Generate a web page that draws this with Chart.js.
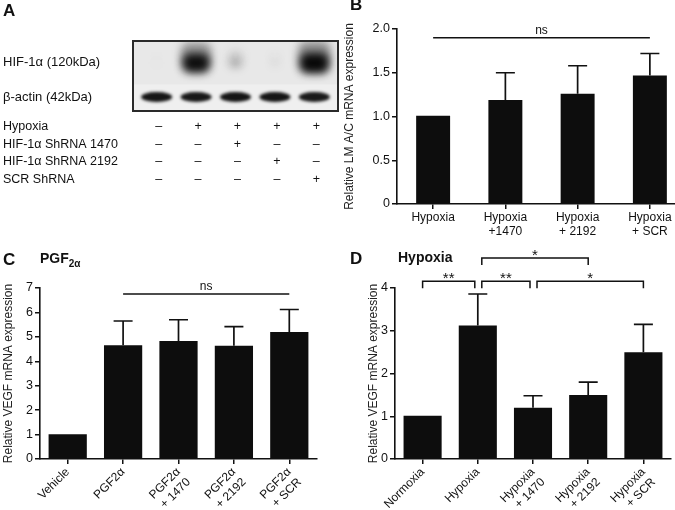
<!DOCTYPE html>
<html>
<head>
<meta charset="utf-8">
<script src="https://cdn.jsdelivr.net/npm/chart.js@4/dist/chart.umd.min.js"></script>
<style>
body{margin:0;width:675px;height:510px;overflow:hidden;background:#fff;position:relative;font-family:"Liberation Sans",Arial,sans-serif}
canvas{position:absolute}
.lbl{position:absolute;font-weight:bold;color:#111;white-space:nowrap}
</style>
</head>
<body>
<canvas id="chartA" width="340" height="250" style="left:0;top:0"></canvas>
<canvas id="chartB" width="346" height="250" style="left:340px;top:0"></canvas>
<canvas id="chartC" width="340" height="260" style="left:0;top:250px"></canvas>
<canvas id="chartD" width="335" height="262" style="left:340px;top:248px"></canvas>
<div class="lbl" style="left:3px;top:1px;font-size:17px">A</div>
<div class="lbl" style="left:350px;top:-5px;font-size:17px">B</div>
<div class="lbl" style="left:3px;top:250px;font-size:17px">C</div>
<div class="lbl" style="left:350px;top:249px;font-size:17px">D</div>
<div class="lbl" style="left:40px;top:250px;font-size:14px">PGF<sub style="font-size:10px">2α</sub></div>
<div class="lbl" style="left:398px;top:249px;font-size:14px">Hypoxia</div>
<script>
var F = '"Liberation Sans", Arial, sans-serif';

// panel A - blot and treatment table
var lanes = [0, 1, 2, 3, 4];
var hifBand = [0.02, 0.92, 0.25, 0.06, 1.0];
var actinBand = [0.95, 0.93, 0.95, 0.95, 0.92];
var rowNames = ['Hypoxia', 'HIF-1α ShRNA 1470', 'HIF-1α ShRNA 2192', 'SCR ShRNA'];
var rowHypoxia = ['–', '+', '+', '+', '+'];
var row1470 = ['–', '–', '+', '–', '–'];
var row2192 = ['–', '–', '–', '+', '–'];
var rowScr = ['–', '–', '–', '–', '+'];

// panel B
var bLabels = ['Hypoxia', ['Hypoxia', '+1470'], ['Hypoxia', '+ 2192'], ['Hypoxia', '+ SCR']];
var bMean = [1.01, 1.19, 1.26, 1.47];
var bErr = [0, 0.31, 0.32, 0.25];

// panel C
var cLabels = ['Vehicle', 'PGF2α', ['PGF2α', '+ 1470'], ['PGF2α', '+ 2192'], ['PGF2α', '+ SCR']];
var cMean = [1.01, 4.66, 4.83, 4.64, 5.2];
var cErr = [0, 0.99, 0.87, 0.78, 0.92];

// panel D
var dLabels = ['Normoxia', 'Hypoxia', ['Hypoxia', '+ 1470'], ['Hypoxia', '+ 2192'], ['Hypoxia', '+ SCR']];
var dMean = [1.01, 3.12, 1.2, 1.5, 2.5];
var dErr = [0, 0.74, 0.28, 0.3, 0.65];

function blob(ctx, x, y, w, h, r)
{
    ctx.beginPath();
    ctx.roundRect(x - w / 2, y - h / 2, w, h, r);
    ctx.fill();
}

var blot = {
    id: 'blot',
    beforeDatasetsDraw: function(chart)
    {
        var ctx = chart.ctx;
        var a = chart.chartArea;
        ctx.save();
        ctx.fillStyle = '#e8e8e8';
        ctx.fillRect(a.left, a.top, a.width, a.height);
        ctx.fillStyle = '#efefef';
        ctx.fillRect(a.left, a.top + a.height * 0.62, a.width, a.height * 0.38);
        ctx.beginPath();
        ctx.rect(a.left, a.top, a.width, a.height);
        ctx.clip();
        chart.getDatasetMeta(0).data.forEach(function(p, i) {
            var s = hifBand[i];
            if (s < 0.01) return;
            // smear above the band
            ctx.filter = 'blur(4px)';
            ctx.fillStyle = 'rgba(40,40,40,' + (0.45 * s) + ')';
            blob(ctx, p.x, p.y - 6, 10 + 22 * s, 8 + 22 * s, 8);
            ctx.fillStyle = 'rgba(8,8,8,' + Math.min(1, s * 1.05) + ')';
            blob(ctx, p.x, p.y + 1, 8 + 20 * s, 6 + 14 * s, 7);
        });
        ctx.filter = 'blur(1.6px)';
        chart.getDatasetMeta(1).data.forEach(function(p, i) {
            ctx.fillStyle = 'rgba(8,8,8,' + actinBand[i] + ')';
            ctx.beginPath();
            ctx.ellipse(p.x, p.y, 15.5, 5, 0, 0, 2 * Math.PI);
            ctx.fill();
        });
        ctx.restore();
        ctx.save();
        ctx.strokeStyle = '#2a2a2a';
        ctx.lineWidth = 2;
        ctx.strokeRect(a.left, a.top, a.width, a.height);

        ctx.fillStyle = '#111';
        ctx.font = '13px ' + F;
        ctx.textBaseline = 'middle';
        ctx.fillText('HIF-1α (120kDa)', 3, chart.getDatasetMeta(0).data[0].y);
        ctx.fillText('β-actin (42kDa)', 3, chart.getDatasetMeta(1).data[0].y);

        var rows = [rowHypoxia, row1470, row2192, rowScr];
        var pts = chart.getDatasetMeta(0).data;
        ctx.font = '12.5px ' + F;
        for (var r = 0; r < rows.length; r++) {
            var yy = a.bottom + 16 + r * 17.5;
            ctx.textAlign = 'left';
            ctx.fillText(rowNames[r], 3, yy);
            ctx.textAlign = 'center';
            for (var i = 0; i < rows[r].length; i++) {
                ctx.fillText(rows[r][i], pts[i].x + 2, yy);
            }
        }
        ctx.restore();
    }
};

new Chart(document.getElementById('chartA'), {
    type: 'scatter',
    data: {
        datasets: [
            { data: lanes.map(function(i) { return { x: i, y: 1.4 }; }), pointRadius: 0 },
            { data: lanes.map(function(i) { return { x: i, y: 0.4 }; }), pointRadius: 0 }
        ]
    },
    options: {
        responsive: false, animation: false, devicePixelRatio: 1,
        layout: { padding: { left: 133, right: 2, top: 41, bottom: 139 } },
        plugins: { legend: { display: false }, tooltip: { enabled: false } },
        scales: {
            x: { type: 'linear', min: -0.6, max: 4.6, display: false },
            y: { min: 0, max: 2, display: false }
        }
    },
    plugins: [blot]
});

var errorBars = {
    id: 'errorBars',
    afterDatasetsDraw: function(chart, args, opts)
    {
        var ctx = chart.ctx;
        var y = chart.scales.y;
        var vals = chart.data.datasets[0].data;
        ctx.save();
        ctx.strokeStyle = '#111';
        ctx.lineWidth = 1.7;
        chart.getDatasetMeta(0).data.forEach(function(bar, i) {
            if (!opts.errs[i]) return;
            var top = y.getPixelForValue(vals[i] + opts.errs[i]);
            ctx.beginPath();
            ctx.moveTo(bar.x, bar.y);
            ctx.lineTo(bar.x, top);
            ctx.moveTo(bar.x - 9.5, top);
            ctx.lineTo(bar.x + 9.5, top);
            ctx.stroke();
        });
        ctx.restore();
    }
};

var brackets = {
    id: 'brackets',
    afterDraw: function(chart, args, opts)
    {
        var ctx = chart.ctx;
        var xs = chart.scales.x, ys = chart.scales.y;
        var lines = opts.lines || [];
        ctx.save();
        ctx.strokeStyle = '#111';
        ctx.fillStyle = '#111';
        ctx.lineWidth = 1.5;
        ctx.textAlign = 'center';
        ctx.textBaseline = 'alphabetic';
        lines.forEach(function(b) {
            var x1 = xs.getPixelForValue(b.from);
            var x2 = xs.getPixelForValue(b.to);
            // nudge apart where brackets share a bar
            if (lines.some(function(o) { return o !== b && o.to === b.from; })) x1 += 4;
            if (lines.some(function(o) { return o !== b && o.from === b.to; })) x2 -= 3;
            var yy = ys.getPixelForValue(b.level);
            ctx.beginPath();
            ctx.moveTo(x1, yy + b.drop);
            ctx.lineTo(x1, yy);
            ctx.lineTo(x2, yy);
            ctx.lineTo(x2, yy + b.drop);
            ctx.stroke();
            ctx.font = b.label === 'ns' ? '12px ' + F : '15px ' + F;
            ctx.fillText(b.label, (x1 + x2) / 2, b.label === 'ns' ? yy - 4 : yy + 2);
        });
        ctx.restore();
    }
};

function barChart(id, cfg)
{
    return new Chart(document.getElementById(id), {
        type: 'bar',
        data: {
            labels: cfg.labels,
            datasets: [{
                data: cfg.means,
                backgroundColor: '#0d0d0d',
                borderWidth: 0,
                barPercentage: cfg.barPct,
                categoryPercentage: 1
            }]
        },
        options: {
            responsive: false, animation: false, devicePixelRatio: 1,
            layout: { padding: cfg.padding },
            plugins: {
                legend: { display: false },
                tooltip: { enabled: false },
                errorBars: { errs: cfg.errs },
                brackets: { lines: cfg.brackets }
            },
            scales: {
                x: {
                    grid: { display: true, offset: false, drawOnChartArea: false, drawTicks: true, tickLength: 5, color: '#111', lineWidth: 1.5 },
                    border: { display: true, color: '#111', width: 1.6 },
                    ticks: { color: '#111', font: { size: 12, family: F }, maxRotation: cfg.rot, minRotation: cfg.rot, autoSkip: false, padding: 1 },
                    afterFit: function(s) { s.height = cfg.xH; }
                },
                y: {
                    min: 0, max: cfg.yMax,
                    grid: { display: true, drawOnChartArea: false, drawTicks: true, tickLength: 5, color: '#111', lineWidth: 1.5 },
                    border: { display: true, color: '#111', width: 1.6 },
                    ticks: { stepSize: cfg.step, color: '#111', font: { size: 12.5, family: F }, padding: 2, callback: cfg.tickFmt },
                    title: { display: true, text: cfg.yTitle, color: '#222', font: { size: 12, family: F }, padding: 0 },
                    afterFit: function(s) { s.width = cfg.yW; }
                }
            }
        },
        plugins: [errorBars, brackets]
    });
}

barChart('chartB', {
    labels: bLabels, means: bMean, errs: bErr,
    barPct: 0.47, rot: 0, xH: 46, yW: 55, yMax: 2, step: 0.5,
    tickFmt: function(v) { return v === 0 ? '0' : v.toFixed(1); },
    yTitle: 'Relative LM A/C mRNA expression',
    padding: { left: 2, right: 0, top: 29, bottom: 0 },
    brackets: [{ from: 0, to: 3, level: 1.9, drop: 0, label: 'ns' }]
});

barChart('chartC', {
    labels: cLabels, means: cMean, errs: cErr,
    barPct: 0.69, rot: 45, xH: 51, yW: 39, yMax: 7, step: 1,
    tickFmt: function(v) { return v; },
    yTitle: 'Relative VEGF mRNA expression',
    padding: { left: 1, right: 23, top: 38, bottom: 0 },
    brackets: [{ from: 1, to: 4, level: 6.75, drop: 0, label: 'ns' }]
});

barChart('chartD', {
    labels: dLabels, means: dMean, errs: dErr,
    barPct: 0.69, rot: 45, xH: 51, yW: 29, yMax: 4, step: 1,
    tickFmt: function(v) { return v; },
    yTitle: 'Relative VEGF mRNA expression',
    padding: { left: 26, right: 4, top: 40, bottom: 0 },
    brackets: [
        { from: 0, to: 1, level: 4.16, drop: 7, label: '**' },
        { from: 1, to: 2, level: 4.16, drop: 7, label: '**' },
        { from: 2, to: 4, level: 4.16, drop: 7, label: '*' },
        { from: 1, to: 3, level: 4.7, drop: 7, label: '*' }
    ]
});
</script>
</body>
</html>
